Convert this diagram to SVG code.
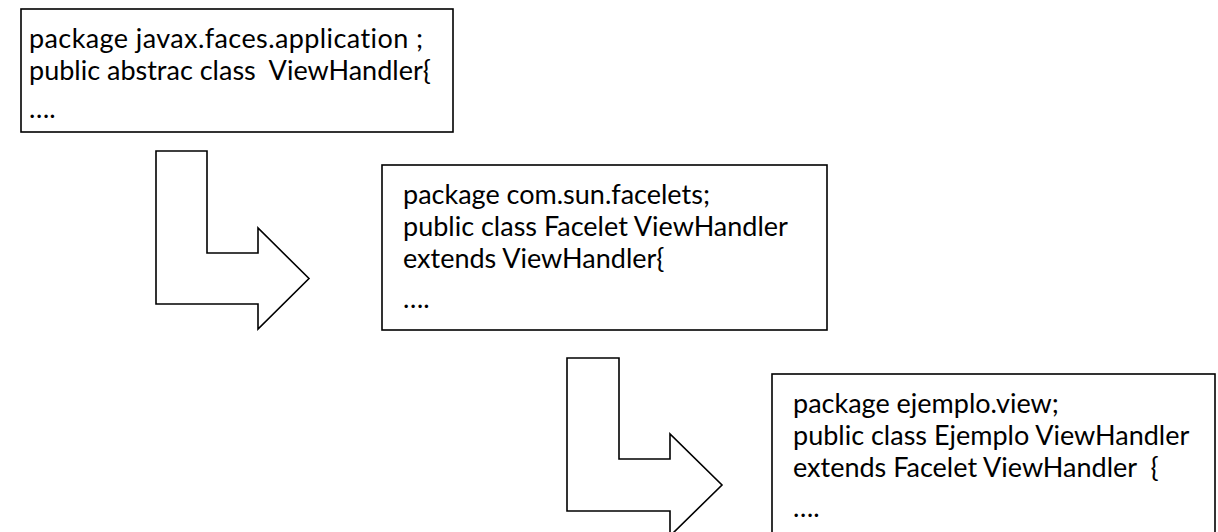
<svg xmlns="http://www.w3.org/2000/svg" width="1218" height="532" viewBox="0 0 1218 532">
  <style>
    .box { fill: #ffffff; stroke: #000000; stroke-width: 1.6; }
    .bend { fill: #ffffff; stroke: #000000; stroke-width: 1.6; stroke-linejoin: miter; }
    .code { font-family: Lato, "Liberation Sans", sans-serif; font-size: 27px; fill: #000000; white-space: pre; font-variant-ligatures: none; }
  </style>
  <rect width="1218" height="532" fill="#ffffff"/>

  <!-- bent arrows linking each class to its subclass -->
  <g id="connectors">
    <path class="bend" d="M156,151 H207 V253 H258 V228 L309,278.5 L258,329 V304 H156 Z"/>
    <path class="bend" d="M567,358 H619 V459 H670 V434 L722,485 L670,536 V511 H567 Z"/>
  </g>

  <g id="view-handler">
    <rect class="box" x="21" y="9" width="432" height="123"/>
    <text class="code" x="29" y="48" textLength="394" lengthAdjust="spacing">package javax.faces.application ;</text>
    <text class="code" x="29" y="80">public abstrac class  ViewHandler{</text>
    <text class="code" x="29" y="118">….</text>
  </g>

  <g id="facelet-view-handler">
    <rect class="box" x="382" y="165" width="445" height="165"/>
    <text class="code" x="403" y="204">package com.sun.facelets;</text>
    <text class="code" x="403" y="236">public class Facelet ViewHandler</text>
    <text class="code" x="403" y="268">extends ViewHandler{</text>
    <text class="code" x="403" y="308">….</text>
  </g>

  <g id="ejemplo-view-handler">
    <rect class="box" x="772" y="374" width="443" height="170"/>
    <text class="code" x="793" y="413">package ejemplo.view;</text>
    <text class="code" x="793" y="445">public class Ejemplo ViewHandler</text>
    <text class="code" x="793" y="477">extends Facelet ViewHandler  {</text>
    <text class="code" x="793" y="517">….</text>
  </g>
</svg>
